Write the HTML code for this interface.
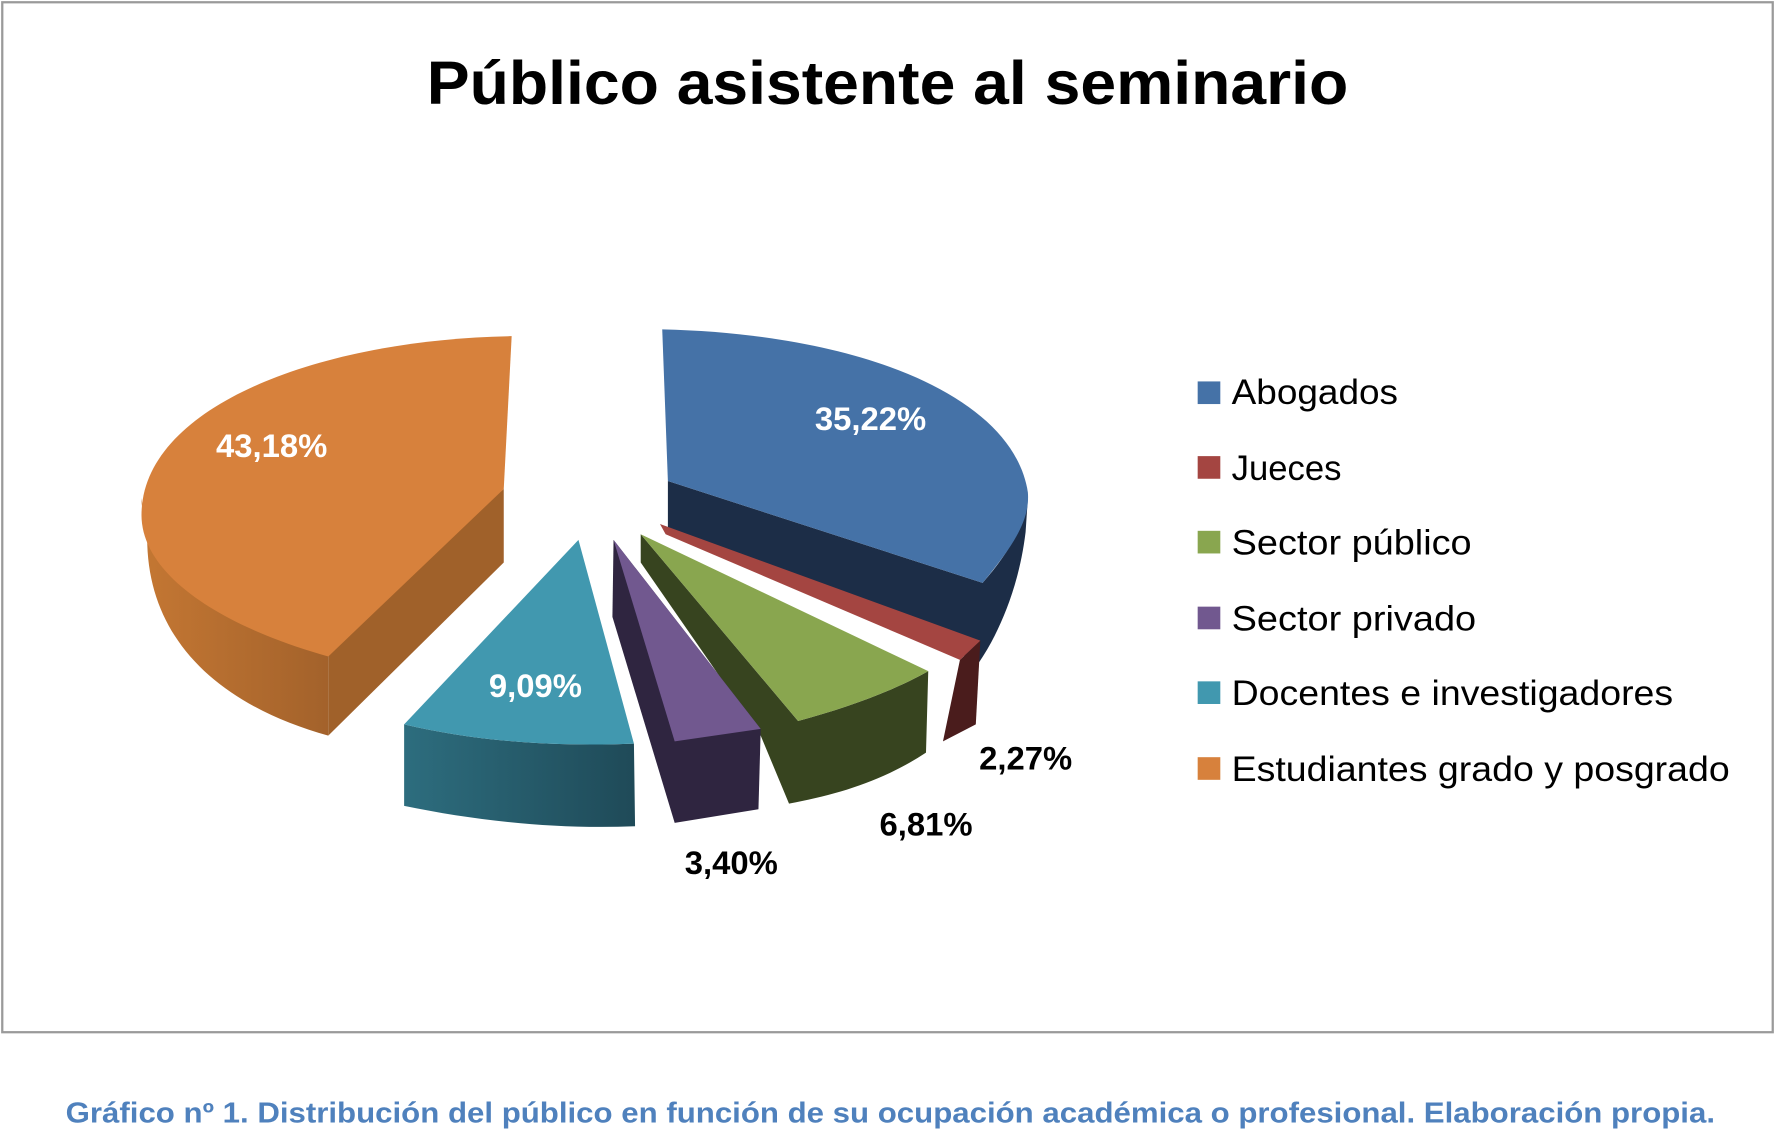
<!DOCTYPE html>
<html><head><meta charset="utf-8"><style>
html,body{margin:0;padding:0;background:#fff;}
svg{display:block;}
text{font-family:"Liberation Sans",sans-serif;}
</style></head><body>
<svg width="1775" height="1142" viewBox="0 0 1568 1009" preserveAspectRatio="none">
<defs>
<linearGradient id="og" x1="0" x2="1" y1="0" y2="0"><stop offset="0" stop-color="#c47733"/><stop offset="1" stop-color="#a3622b"/></linearGradient>
<linearGradient id="tg" x1="0" x2="1" y1="0" y2="0"><stop offset="0" stop-color="#2d6d7e"/><stop offset="1" stop-color="#1f4a58"/></linearGradient>
</defs>
<rect x="2" y="2" width="1564" height="910" fill="#fff" stroke="#9a9a9a" stroke-width="2"/>
<text x="784" y="92" font-size="54" font-weight="bold" text-anchor="middle" textLength="814" lengthAdjust="spacingAndGlyphs">Público asistente al seminario</text>

<!-- orange -->
<path d="M445,432 L290,560 L290,650 L445,497 Z" fill="#a0612a"/>
<path d="M125,440 C125,490 180,540 290,560 L290,650 C200,625 130,570 130,475 Z" fill="url(#og)"/>
<path d="M452,297 L445,432 L290,580 C200,555 125,510 125,455 C125,360 280,300 452,297 Z" fill="#d7813c"/>
<!-- blue -->
<path d="M590,425 L868,515 C890,490 905,465 908,440 L906,470 C900,520 882,560 865,585 L590,468 Z" fill="#1c2d47"/>
<path d="M585,291 L590,425 L868,515 C895,482 910,460 908,435 C895,350 760,295 585,291 Z" fill="#4572a7"/>
<!-- red -->
<path d="M848,583 L866,566 L862,640 L833,655 Z" fill="#4a1c1c"/>
<path d="M583,463 L866,566 L848,583 L588,472 Z" fill="#a44541"/>
<!-- green -->
<path d="M566,472 L705,637 C750,625 790,610 820,593 L818,665 C780,690 740,702 697,710 L672,650 L566,497 Z" fill="#37441f"/>
<path d="M566,472 L820,593 C790,610 750,625 705,637 Z" fill="#89a64f"/>
<!-- purple -->
<path d="M542,477 L541,545 L596,727 L670,715 L672,644 Z" fill="#2f2540"/>
<path d="M542,477 L672,644 L596,655 Z" fill="#71588f"/>
<!-- teal -->
<path d="M357,640 C420,655 490,660 560,657 L561,730 C490,733 420,725 357,712 Z" fill="url(#tg)"/>
<path d="M511,477 L357,640 C420,655 490,660 560,657 Z" fill="#4198af"/>

<g font-size="29" font-weight="bold" text-anchor="middle">
<text x="240" y="404" fill="#fff">43,18%</text>
<text x="769" y="380" fill="#fff">35,22%</text>
<text x="473" y="616" fill="#fff">9,09%</text>
<text x="906" y="680" fill="#000">2,27%</text>
<text x="818" y="738" fill="#000">6,81%</text>
<text x="646" y="772" fill="#000">3,40%</text>
</g>

<g font-size="31">
<rect x="1058" y="337" width="20" height="20" fill="#4572a7"/><text x="1088" y="357" textLength="147" lengthAdjust="spacingAndGlyphs">Abogados</text>
<rect x="1058" y="403" width="20" height="20" fill="#a44541"/><text x="1088" y="424" textLength="97" lengthAdjust="spacingAndGlyphs">Jueces</text>
<rect x="1058" y="469" width="20" height="20" fill="#89a64f"/><text x="1088" y="490" textLength="212" lengthAdjust="spacingAndGlyphs">Sector público</text>
<rect x="1058" y="536" width="20" height="20" fill="#71588f"/><text x="1088" y="557" textLength="216" lengthAdjust="spacingAndGlyphs">Sector privado</text>
<rect x="1058" y="602" width="20" height="20" fill="#4198af"/><text x="1088" y="623" textLength="390" lengthAdjust="spacingAndGlyphs">Docentes e investigadores</text>
<rect x="1058" y="669" width="20" height="20" fill="#d7813c"/><text x="1088" y="690" textLength="440" lengthAdjust="spacingAndGlyphs">Estudiantes grado y posgrado</text>
</g>

<text x="58" y="992" font-size="25" font-weight="bold" fill="#4f81bd" textLength="1457" lengthAdjust="spacingAndGlyphs">Gráfico nº 1. Distribución del público en función de su ocupación académica o profesional. Elaboración propia.</text>
</svg>
</body></html>
